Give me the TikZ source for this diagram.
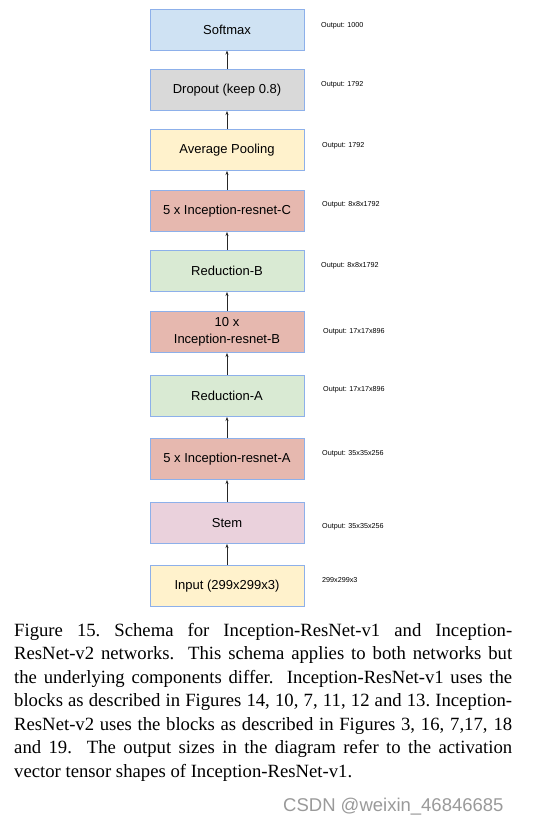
\documentclass[tikz,border=0pt]{standalone}
\usepackage{fontspec}
\setmainfont{Liberation Serif}
\newfontfamily\boxfont{Liberation Sans}
\usetikzlibrary{arrows.meta}
\definecolor{cblue}{HTML}{CFE2F3}
\definecolor{cgray}{HTML}{D9D9D9}
\definecolor{cyellow}{HTML}{FFF2CC}
\definecolor{cred}{HTML}{E6B8AF}
\definecolor{cgreen}{HTML}{D9EAD3}
\definecolor{cpink}{HTML}{EAD1DC}
\definecolor{cborder}{HTML}{8DB0EA}
\definecolor{wmgray}{HTML}{9A9A9A}
\begin{document}
\begin{tikzpicture}[x=1pt,y=-1pt,
  layerbox/.style={draw=cborder, line width=1pt, minimum width=154pt, minimum height=41pt,
    inner sep=0pt, align=center, font=\boxfont\fontsize{13}{17}\selectfont},
  outlabel/.style={anchor=west, inner sep=0pt, font=\boxfont\fontsize{7.2}{8}\selectfont},
  flow/.style={draw=black!85, line width=0.9pt, -{Stealth[length=4pt,width=3pt]}}]
\useasboundingbox (0,0) rectangle (539,823);
\fill[white] (0,0) rectangle (539,823);

\node[layerbox, fill=cblue]   (soft) at (227,29.5)  {Softmax};
\node[layerbox, fill=cgray]   (drop) at (227,90)    {Dropout (keep 0.8)};
\node[layerbox, fill=cyellow] (pool) at (227,150)   {Average Pooling};
\node[layerbox, fill=cred]    (incc) at (227,211)   {5 x Inception-resnet-C};
\node[layerbox, fill=cgreen]  (redb) at (227,271)   {Reduction-B};
\node[layerbox, fill=cred]    (incb) at (227,332)   {10 x\\Inception-resnet-B};
\node[layerbox, fill=cgreen]  (reda) at (227,396)   {Reduction-A};
\node[layerbox, fill=cred]    (inca) at (227,459)   {5 x Inception-resnet-A};
\node[layerbox, fill=cpink]   (stem) at (227,523)   {Stem};
\node[layerbox, fill=cyellow] (inp)  at (227,586)   {Input (299x299x3)};

\draw[flow] (drop) -- (soft);
\draw[flow] (pool) -- (drop);
\draw[flow] (incc) -- (pool);
\draw[flow] (redb) -- (incc);
\draw[flow] (incb) -- (redb);
\draw[flow] (reda) -- (incb);
\draw[flow] (inca) -- (reda);
\draw[flow] (stem) -- (inca);
\draw[flow] (inp) -- (stem);

\node[outlabel] (o1)  at (321,26)  {Output: 1000};
\node[outlabel] (o2)  at (321,85)  {Output: 1792};
\node[outlabel] (o3)  at (322,146) {Output: 1792};
\node[outlabel] (o4)  at (322,205) {Output: 8x8x1792};
\node[outlabel] (o5)  at (321,266) {Output: 8x8x1792};
\node[outlabel] (o6)  at (323,332) {Output: 17x17x896};
\node[outlabel] (o7)  at (323,390) {Output: 17x17x896};
\node[outlabel] (o8)  at (322,454) {Output: 35x35x256};
\node[outlabel] (o9)  at (322,527) {Output: 35x35x256};
\node[outlabel] (o10) at (322,580) {299x299x3};

\node[anchor=base west, inner sep=0pt, align=left,
  font=\fontsize{18.7}{23.5}\selectfont] (cap) at (14,777) {%
\makebox[498pt][s]{Figure 15.\ Schema for Inception-ResNet-v1 and Inception-}\\
\makebox[498pt][s]{ResNet-v2 networks.\ \ This schema applies to both networks but}\\
\makebox[498pt][s]{the underlying components differ.\ \ Inception-ResNet-v1 uses the}\\
\makebox[498pt][s]{blocks as described in Figures 14, 10, 7, 11, 12 and 13.\ Inception-}\\
\makebox[498pt][s]{ResNet-v2 uses the blocks as described in Figures 3, 16, 7,17, 18}\\
\makebox[498pt][s]{and 19.\ \ The output sizes in the diagram refer to the activation}\\
vector tensor shapes of Inception-ResNet-v1.};

\node[anchor=base west, inner sep=0pt, text=wmgray,
  font=\boxfont\fontsize{18.5}{20}\selectfont] (wm) at (283,811) {CSDN @weixin\_46846685};
\end{tikzpicture}
\end{document}
